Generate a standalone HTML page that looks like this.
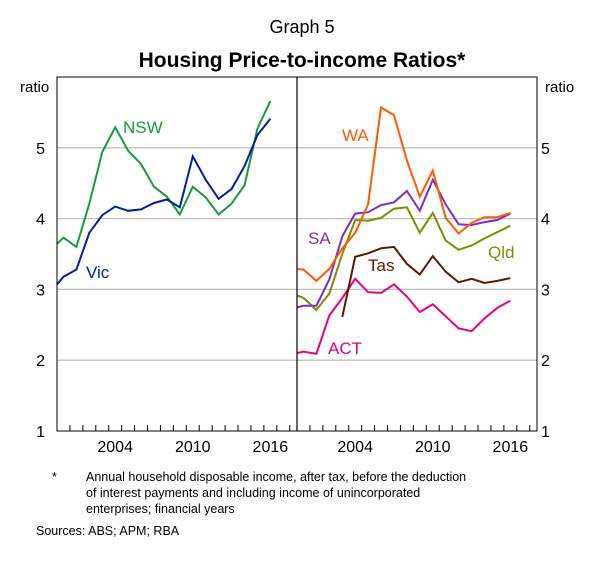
<!DOCTYPE html>
<html><head><meta charset="utf-8"><style>
body{margin:0;background:#fff;font-family:"Liberation Sans",Arial,sans-serif;}
</style></head><body>
<svg width="604" height="558" viewBox="0 0 604 558" xmlns="http://www.w3.org/2000/svg" font-family="Liberation Sans, Arial, sans-serif">
<text x="302" y="33" font-size="18" text-anchor="middle">Graph 5</text>
<text x="302" y="67" font-size="21" font-weight="bold" text-anchor="middle">Housing Price-to-income Ratios*</text>
<g id="grid"></g>
<g id="series"></g>
<g id="axes"></g>
<text x="20" y="92" font-size="15">ratio</text>
<text x="545" y="92" font-size="15">ratio</text>
<text x="123" y="133" font-size="17" fill="#1a9a3a">NSW</text>
<text x="86" y="278" font-size="17" fill="#00209f">Vic</text>
<text x="342" y="141" font-size="17" fill="#ff5a00">WA</text>
<text x="308" y="244" font-size="17" fill="#7b2fbe">SA</text>
<text x="368" y="271" font-size="17" fill="#5a1a00">Tas</text>
<text x="488" y="258" font-size="17" fill="#7f8c00">Qld</text>
<text x="328" y="354" font-size="17" fill="#e6007e">ACT</text>
<g font-size="12.5">
<text x="52" y="481">*</text>
<text x="86" y="481">Annual household disposable income, after tax, before the deduction</text>
<text x="86" y="497">of interest payments and including income of unincorporated</text>
<text x="86" y="513">enterprises; financial years</text>
<text x="36" y="535">Sources:   ABS; APM; RBA</text>
</g>
</svg>
<script>
const years = [1999,2000,2001,2002,2003,2004,2005,2006,2007,2008,2009,2010,2011,2012,2013,2014,2015,2016];
const nsw = [3.56,3.73,3.60,4.21,4.94,5.29,4.96,4.77,4.45,4.31,4.06,4.45,4.30,4.06,4.21,4.47,5.27,5.66];
const vic = [2.96,3.18,3.28,3.80,4.05,4.17,4.11,4.13,4.22,4.27,4.16,4.88,4.55,4.28,4.42,4.74,5.18,5.41];
const wa  = [3.30,3.28,3.12,3.29,3.58,3.80,4.20,5.57,5.46,4.82,4.31,4.68,4.01,3.79,3.94,4.02,4.02,4.08];
const sa  = [2.72,2.77,2.77,3.14,3.75,4.07,4.09,4.19,4.23,4.39,4.11,4.55,4.20,3.92,3.91,3.95,3.98,4.07];
const qld = [2.95,2.88,2.71,2.94,3.50,3.98,3.97,4.01,4.14,4.16,3.80,4.08,3.69,3.56,3.62,3.72,3.81,3.90];
const tas = [null,null,null,null,2.61,3.46,3.51,3.58,3.60,3.36,3.21,3.47,3.25,3.10,3.15,3.09,3.12,3.16];
const act = [2.08,2.12,2.09,2.63,2.88,3.15,2.96,2.95,3.07,2.90,2.68,2.79,2.62,2.45,2.41,2.59,2.74,2.84];
const yTicks = [1,2,3,4,5];
const xLabels = [2004,2010,2016];

const NS="http://www.w3.org/2000/svg";
const plotTop=77,plotBot=431,vMin=1,vMax=6;
const pxYear=12.93, panelW=240;
const panels=[57,297];
function yS(v){return plotBot-(v-vMin)*(plotBot-plotTop)/(vMax-vMin);}
function xS(p,yr){return panels[p]+(yr-2000)*pxYear;}
function mk(tag,attrs,parent){const e=document.createElementNS(NS,tag);for(const k in attrs)e.setAttribute(k,attrs[k]);parent.appendChild(e);return e;}
const grid=document.getElementById('grid'),ser=document.getElementById('series'),ax=document.getElementById('axes');
const svgEl=document.querySelector('svg');
const defs=mk('defs',{},svgEl);
[0,1].forEach(p=>{const c=mk('clipPath',{id:'clip'+p},defs);mk('rect',{x:panels[p],y:plotTop,width:panelW,height:plotBot-plotTop},c);});
yTicks.forEach(t=>{
  if(t>vMin){const l=mk('line',{x1:57,x2:537,y1:yS(t),y2:yS(t),stroke:'#c0c0c0','stroke-width':1.3},grid);
  
  }
  const a=mk('text',{x:45,y:yS(t)+6,'font-size':16,'text-anchor':'end'},ax);a.textContent=t;
  
  
  const b=mk('text',{x:541,y:yS(t)+6,'font-size':16},ax);b.textContent=t;
  
  
});
function line(p,data,color,name){
  const pts=[];data.forEach((v,i)=>{if(v!==null)pts.push(xS(p,years[i]+0.5).toFixed(1)+','+yS(v).toFixed(1));});
  const pl=mk('polyline',{points:pts.join(' '),fill:'none',stroke:color,'stroke-width':2,'clip-path':'url(#clip'+p+')'},ser);
  
  
}
line(0,nsw,'#1a9a3a','line-nsw');
line(0,vic,'#00209f','line-vic');
line(1,act,'#e6007e','line-act');
line(1,tas,'#5a1a00','line-tas');
line(1,qld,'#7f8c00','line-qld');
line(1,sa,'#7b2fbe','line-sa');
line(1,wa,'#ff5a00','line-wa');
const fr=mk('rect',{x:57,y:plotTop,width:480,height:plotBot-plotTop,fill:'none',stroke:'#000','stroke-width':1},ax);


const dv=mk('line',{x1:297,x2:297,y1:plotTop,y2:plotBot,stroke:'#000','stroke-width':1.2},ax);


[0,1].forEach(p=>{
  for(let k=1;k<=18;k++){const xx=panels[p]+k*pxYear;if(xx>=panels[p]+panelW-1)break;
    const t=mk('line',{x1:xx,x2:xx,y1:plotBot,y2:plotBot-6,stroke:'#000','stroke-width':1},ax);
    
    }
  xLabels.forEach(yr=>{const t=mk('text',{x:xS(p,yr+0.5),y:plotBot+21,'font-size':16,'text-anchor':'middle'},ax);t.textContent=yr;
    
    });
});
</script>
</body></html>
